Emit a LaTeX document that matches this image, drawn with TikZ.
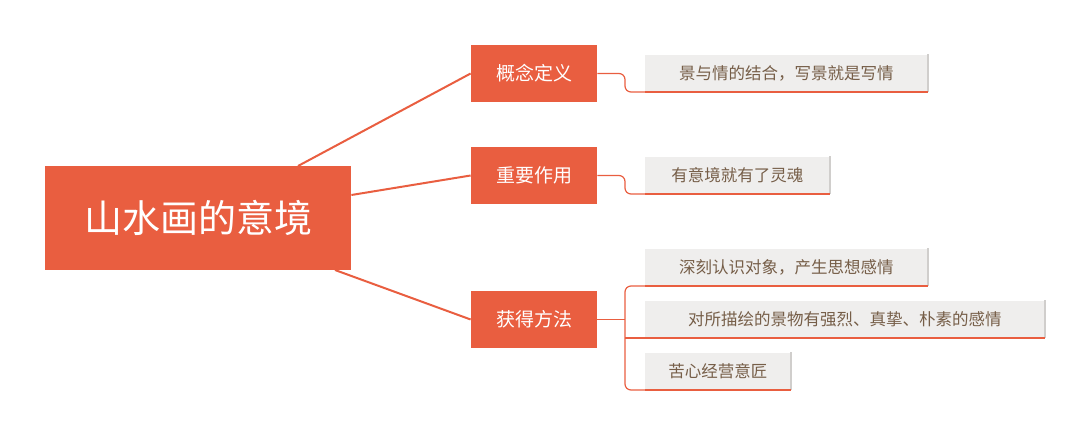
\documentclass[tikz,border=0pt]{standalone}
\usepackage{fontspec}
\setmainfont{Noto Sans CJK SC}
\definecolor{mainred}{RGB}{233,94,64}
\definecolor{leafgray}{RGB}{239,238,237}
\definecolor{leafedge}{RGB}{208,206,204}
\definecolor{leaftext}{RGB}{118,94,72}
\tikzset{every picture/.style={line width=0.75pt}}
\tikzset{
  rootbox/.style={fill=mainred,text=white,minimum width=306pt,minimum height=104pt,inner sep=0pt,font=\fontsize{38}{40}\selectfont},
  branchbox/.style={fill=mainred,text=white,minimum width=126pt,minimum height=57pt,inner sep=0pt,font=\fontsize{19}{21}\selectfont},
  leafbox/.style={fill=leafgray,text=leaftext,anchor=south west,minimum height=37pt,inner xsep=13pt,inner ysep=0pt,font=\fontsize{16.5}{18}\selectfont},
  branchline/.style={draw=mainred,line width=2pt},
  leafline/.style={draw=mainred,line width=1.2pt,rounded corners=6pt}
}
\begin{document}
\begin{tikzpicture}[x=1pt,y=1pt,yscale=-1]
\useasboundingbox (0,0) rectangle (1087,436);

% root and branches
\node[rootbox] (root) at (198,218) {山水画的意境};
\node[branchbox] (def) at (534,73.5) {概念定义};
\node[branchbox] (use) at (534,175.5) {重要作用};
\node[branchbox] (way) at (534,319.5) {获得方法};

\draw[branchline] (298,166) -- (def.west);
\draw[branchline] (root.east |- 0,195) -- (use.west);
\draw[branchline] (335,270) -- (way.west);

% leaves
\node[leafbox,minimum width=282pt] (l1) at (645,92) {景与情的结合，写景就是写情};
\node[leafbox,minimum width=184pt] (l2) at (645,194) {有意境就有了灵魂};
\node[leafbox,minimum width=282pt] (l3) at (645,286) {深刻认识对象，产生思想感情};
\node[leafbox,minimum width=399pt] (l4) at (645,338) {对所描绘的景物有强烈、真挚、朴素的感情};
\node[leafbox,minimum width=145pt] (l5) at (645,390) {苦心经营意匠};

\foreach \l in {l1,l2,l3,l4,l5}{
  \draw[leafedge,line width=1.5pt] (\l.north east) -- (\l.south east);
  \draw[mainred,line width=1.2pt] (\l.south west) -- (\l.south east);
}

\draw[leafline] (def.east) -- (625,73.5) -- (625,92) -- (l1.south west);
\draw[leafline] (use.east) -- (625,175.5) -- (625,194) -- (l2.south west);
\draw[leafline] (way.east) -- (625,319.5);
\draw[leafline] (l3.south west) -- (625,286) -- (625,390) -- (l5.south west);
\draw[leafline] (625,338) -- (l4.south west);
\end{tikzpicture}
\end{document}
